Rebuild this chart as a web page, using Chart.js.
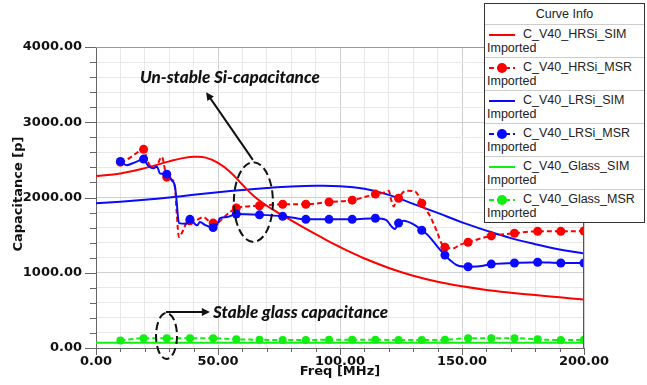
<!DOCTYPE html>
<html>
<head>
<meta charset="utf-8">
<script src="https://cdn.jsdelivr.net/npm/chart.js@4.4.1/dist/chart.umd.min.js"></script>
<style>
  html, body { margin: 0; padding: 0; background: #fff; }
  #wrap { position: relative; width: 647px; height: 385px; overflow: hidden; }
  #chart { position: absolute; left: 0; top: 0; }
  #legend {
    position: absolute; left: 484px; top: 3px; width: 159px; height: 218px;
    border: 1px solid #333; background: #fff;
    font-family: "Liberation Sans", Arial, sans-serif; font-size: 12.5px; color: #222;
  }
  #legend .lh { height: 20px; line-height: 20px; text-align: center; border-bottom: 1px solid #ccc; }
  #legend .row { position: relative; height: 32px; border-bottom: 1px solid #ccc; }
  #legend .row:last-child { border-bottom: none; }
  #legend .row svg { position: absolute; left: 3px; top: 3px; }
  #legend .nm { position: absolute; left: 38px; top: 2px; white-space: nowrap; }
  #legend .im { position: absolute; left: 2px; top: 16px; }
</style>
</head>
<body>
<div id="wrap">
  <canvas id="chart" width="647" height="385"></canvas>
  <div id="legend"></div>
</div>
<script>
// ---- Data (frequency in MHz, capacitance in pF) ----
const seriesNames = ['C_V40_HRSi_SIM', 'C_V40_HRSi_MSR', 'C_V40_LRSi_SIM', 'C_V40_LRSi_MSR', 'C_V40_Glass_SIM', 'C_V40_Glass_MSR'];
const xTickLabels = ['0.00', '50.00', '100.00', '150.00', '200.00'];
const yTickLabels = ['0.00', '1000.00', '2000.00', '3000.00', '4000.00'];

const hrsiSimFreq = [0, 10, 20, 30, 35, 40, 45, 50, 55, 60, 65, 70, 75, 80, 85, 90, 95, 100, 105, 110, 120, 130, 140, 150, 160, 170, 180, 190, 200];
const hrsiSimCap  = [2285, 2320, 2390, 2480, 2520, 2540, 2530, 2460, 2340, 2170, 2010, 1890, 1790, 1695, 1602, 1512, 1425, 1342, 1263, 1190, 1063, 960, 880, 820, 772, 735, 703, 673, 645];

const lrsiSimFreq = [0, 10, 20, 30, 40, 50, 60, 70, 80, 90, 100, 110, 120, 130, 140, 150, 160, 170, 180, 190, 200];
const lrsiSimCap  = [1925, 1945, 1970, 2000, 2035, 2070, 2100, 2125, 2145, 2155, 2150, 2115, 2035, 1915, 1795, 1670, 1560, 1460, 1380, 1310, 1255];

const hrsiMsrFreq = [10, 12, 14, 17, 19.5, 21, 22, 23.5, 25, 27, 29, 31, 32.4, 33, 34, 35.7, 37, 38.5, 41, 44, 46.7, 48, 49.6, 52, 55, 57.5, 67, 76.5, 86, 95.5, 105, 114.5, 117.5, 120, 121, 122, 123, 124, 126, 128, 131, 133.5, 137, 140, 141.5, 143, 146.5, 149, 152.5, 162, 171.5, 181, 190.5, 200];
const hrsiMsrCap  = [2470, 2490, 2530, 2600, 2640, 2500, 2430, 2390, 2430, 2540, 2270, 2240, 2120, 1830, 1475, 1565, 1660, 1690, 1700, 1740, 1675, 1660, 1660, 1725, 1810, 1860, 1890, 1910, 1910, 1940, 1965, 2045, 2060, 2090, 1965, 1880, 1965, 1990, 2075, 2090, 2075, 1925, 1745, 1525, 1395, 1340, 1325, 1370, 1405, 1490, 1525, 1550, 1550, 1555];

const lrsiMsrFreq = [10, 12.6, 15, 17, 19.5, 21.4, 23.4, 25, 26.2, 29, 31, 32.4, 33, 34, 37, 38.5, 41.4, 42.6, 44.7, 48, 49.6, 50.8, 53.7, 57.5, 67, 76.5, 81, 86, 95.5, 105, 114.5, 119, 121, 122.5, 124, 126, 130, 133.5, 136, 140, 143, 145, 148, 152.5, 157, 162, 171.5, 181, 190.5, 200];
const lrsiMsrCap  = [2480, 2430, 2455, 2480, 2510, 2420, 2390, 2410, 2320, 2310, 2230, 2140, 1965, 1660, 1650, 1710, 1630, 1675, 1635, 1600, 1635, 1725, 1740, 1780, 1770, 1750, 1730, 1710, 1710, 1710, 1725, 1700, 1620, 1580, 1660, 1690, 1645, 1565, 1500, 1345, 1235, 1170, 1100, 1080, 1085, 1115, 1130, 1140, 1130, 1130];

const glassSimFreq = [0, 50, 100, 150, 200];
const glassSimCap  = [70, 70, 70, 70, 70];

const glassMsrFreq = [10, 19.5, 29, 38.5, 48, 57.5, 67, 76.5, 86, 95.5, 105, 114.5, 124, 133.5, 143, 152.5, 162, 171.5, 181, 190.5, 200];
const glassMsrCap  = [100, 130, 130, 130, 130, 115, 110, 105, 105, 110, 110, 110, 105, 105, 110, 130, 130, 130, 115, 105, 110];

// ---- Helpers ----
const RED = '#ff0000', BLUE = '#0a0aff', GREEN = '#11ee11';
const toPoints = (f, c) => f.map((x, i) => ({ x, y: c[i] }));
// measurement markers sit on a 9.5 MHz grid starting at 10 MHz
const onMarkerGrid = f => { const k = (f - 10) / 9.5; return Math.abs(k - Math.round(k)) < 1e-6; };
const markerRadius = r => ctx => (ctx.raw && onMarkerGrid(ctx.raw.x)) ? r : 0;

const AXIS_FONT = { family: 'DejaVu Sans', weight: 'bold', size: 13 };

function lineSet(label, pts, color, dashed, radius) {
  const ds = {
    label, data: pts,
    borderColor: color, backgroundColor: color,
    borderWidth: 2, borderDash: dashed ? [5, 3] : [],
    pointRadius: radius ? markerRadius(radius) : 0,
    pointBackgroundColor: color, pointBorderColor: color, pointBorderWidth: 0,
    pointHoverRadius: 0, fill: false
  };
  // simulated curves are smooth splines, measured traces follow their samples
  if (radius) ds.cubicInterpolationMode = 'monotone';
  else ds.tension = 0.4;
  return ds;
}

// tick marks outside the plot, the frame, and the axis titles
const frameTicks = {
  id: 'frameTicks',
  afterDraw(chart) {
    const { ctx, chartArea: a, scales: { x, y } } = chart;
    ctx.save();
    ctx.strokeStyle = '#666';
    ctx.lineWidth = 1;
    ctx.beginPath();
    for (let v = 0; v <= 4000; v += 200) {
      const py = Math.round(y.getPixelForValue(v)) + 0.5;
      const len = v % 1000 === 0 ? 11 : 6;
      ctx.moveTo(a.left - len, py); ctx.lineTo(a.left, py);
    }
    for (let v = 0; v <= 200; v += 10) {
      const px = Math.round(x.getPixelForValue(v)) + 0.5;
      const len = v % 50 === 0 ? 7 : 4;
      ctx.moveTo(px, a.bottom); ctx.lineTo(px, a.bottom + len);
    }
    ctx.stroke();
    ctx.strokeStyle = '#9a9a9a';
    ctx.beginPath();
    ctx.moveTo(a.left, Math.round(a.top) + 0.5); ctx.lineTo(a.right, Math.round(a.top) + 0.5);
    ctx.stroke();
    ctx.strokeStyle = '#555';
    ctx.beginPath();
    ctx.moveTo(Math.round(a.right) - 0.5, a.top); ctx.lineTo(Math.round(a.right) - 0.5, a.bottom);
    ctx.stroke();

    ctx.fillStyle = '#111';
    ctx.font = 'bold 13px "DejaVu Sans"';
    ctx.textAlign = 'center'; ctx.textBaseline = 'middle';
    ctx.fillText('Freq [MHz]', (a.left + a.right) / 2, 372);
    ctx.translate(19, 194);
    ctx.rotate(-Math.PI / 2);
    ctx.fillText('Capacitance [p]', 0, 0);
    ctx.restore();
  }
};

// callouts: dashed ellipses, arrows and notes, placed in data coordinates
const callouts = {
  id: 'callouts',
  afterDatasetsDraw(chart) {
    const { ctx, scales: { x, y } } = chart;
    const X = v => x.getPixelForValue(v), Y = v => y.getPixelForValue(v);
    const ellipse = (fx, cy, rfx, rcy) => {
      ctx.save();
      ctx.setLineDash([8, 4]);
      ctx.lineWidth = 2; ctx.strokeStyle = '#111';
      ctx.beginPath();
      ctx.ellipse(X(fx), Y(cy), Math.abs(X(fx + rfx) - X(fx)), Math.abs(Y(cy + rcy) - Y(cy)), 0, 0, Math.PI * 2);
      ctx.stroke();
      ctx.restore();
    };
    const arrow = (f1, c1, f2, c2) => {
      const x1 = X(f1), y1 = Y(c1), x2 = X(f2), y2 = Y(c2);
      const ang = Math.atan2(y2 - y1, x2 - x1), h = 9;
      ctx.save();
      ctx.strokeStyle = '#111'; ctx.fillStyle = '#111'; ctx.lineWidth = 2;
      ctx.beginPath(); ctx.moveTo(x1, y1); ctx.lineTo(x2 - Math.cos(ang) * 4, y2 - Math.sin(ang) * 4); ctx.stroke();
      ctx.beginPath();
      ctx.moveTo(x2, y2);
      ctx.lineTo(x2 - h * Math.cos(ang - 0.45), y2 - h * Math.sin(ang - 0.45));
      ctx.lineTo(x2 - h * Math.cos(ang + 0.45), y2 - h * Math.sin(ang + 0.45));
      ctx.closePath(); ctx.fill();
      ctx.restore();
    };
    const note = (text, f, c) => {
      ctx.save();
      ctx.font = 'italic 900 17px Lato, "Open Sans", sans-serif';
      ctx.fillStyle = '#111'; ctx.textBaseline = 'middle'; ctx.textAlign = 'left';
      ctx.fillText(text, X(f), Y(c));
      ctx.restore();
    };
    ellipse(64.5, 1940, 8, 530);
    arrow(64.3, 2500, 45.1, 3400);
    note('Un-stable Si-capacitance', 18, 3590);
    ellipse(28.9, 160, 4.3, 305);
    arrow(28.7, 478, 46.7, 478);
    note('Stable glass capacitance', 48, 478);
  }
};

const datasets = [
  lineSet(seriesNames[3], toPoints(lrsiMsrFreq, lrsiMsrCap), BLUE, false, 4.5),
  lineSet(seriesNames[1], toPoints(hrsiMsrFreq, hrsiMsrCap), RED, true, 4.5),
  lineSet(seriesNames[0], toPoints(hrsiSimFreq, hrsiSimCap), RED, false, 0),
  lineSet(seriesNames[2], toPoints(lrsiSimFreq, lrsiSimCap), BLUE, false, 0),
  lineSet(seriesNames[5], toPoints(glassMsrFreq, glassMsrCap), GREEN, true, 4),
  lineSet(seriesNames[4], toPoints(glassSimFreq, glassSimCap), GREEN, false, 0)
];

new Chart(document.getElementById('chart'), {
  type: 'line',
  data: { datasets },
  options: {
    responsive: false, animation: false,
    layout: { padding: { left: 0, top: 47, right: 63, bottom: 0 } },
    plugins: { legend: { display: false }, tooltip: { enabled: false } },
    scales: {
      x: {
        type: 'linear', min: 0, max: 200,
        afterFit: s => { s.height = 37; },
        ticks: {
          stepSize: 10, autoSkip: false, maxRotation: 0, padding: 6,
          font: AXIS_FONT, color: '#111',
          callback: v => (v % 50 === 0 ? xTickLabels[v / 50] : '')
        },
        grid: { drawTicks: false, color: c => (c.tick && c.tick.value % 50 === 0 ? '#cfcfcf' : '#e8e8e8') },
        border: { display: true, color: '#666' }
      },
      y: {
        type: 'linear', min: 0, max: 4000,
        afterFit: s => { s.width = 96; },
        ticks: {
          stepSize: 200, autoSkip: false, padding: 14,
          font: AXIS_FONT, color: '#111',
          callback: v => (v % 1000 === 0 ? yTickLabels[v / 1000] : '')
        },
        grid: { drawTicks: false, color: c => (c.tick && c.tick.value % 1000 === 0 ? '#cfcfcf' : '#e8e8e8') },
        border: { display: true, color: '#666' }
      }
    }
  },
  plugins: [frameTicks, callouts]
});

// ---- Curve info box ----
const legendColors = [RED, RED, BLUE, BLUE, GREEN, GREEN];
const legendEl = document.getElementById('legend');
let html = '<div class="lh">Curve Info</div>';
seriesNames.forEach((name, i) => {
  const measured = name.endsWith('_MSR');
  const c = legendColors[i];
  const svg = '<svg width="32" height="14" xmlns="http://www.w3.org/2000/svg">' +
    '<line x1="1" y1="7" x2="27" y2="7" stroke="' + c + '" stroke-width="2"' + (measured ? ' stroke-dasharray="5 3"' : '') + '/>' +
    (measured ? '<circle cx="14" cy="7" r="5" fill="' + c + '"/>' : '') + '</svg>';
  html += '<div class="row">' + svg + '<span class="nm">' + name + '</span><span class="im">Imported</span></div>';
});
legendEl.innerHTML = html;
</script>
</body>
</html>
